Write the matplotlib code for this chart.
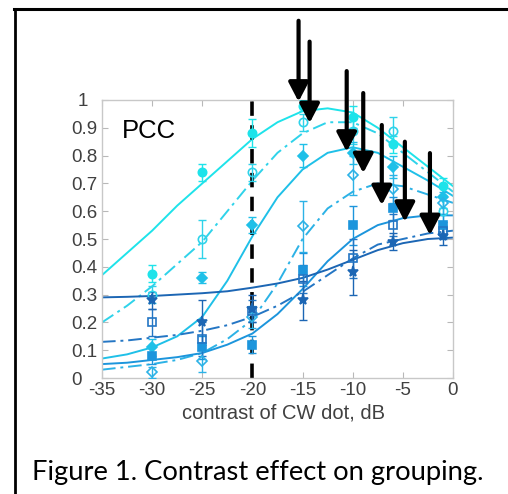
import matplotlib
matplotlib.use("Agg")
import matplotlib.pyplot as plt
from matplotlib.lines import Line2D
from matplotlib.transforms import ScaledTranslation

# ---------------- data ----------------
x_data = [-30, -25, -20, -15, -10, -6, -1]

s1_y = [0.375, 0.74, 0.88, 0.98, 0.94, 0.84, 0.69]
s2_y = [0.30, 0.50, 0.74, 0.92, 0.89, 0.89, 0.60]
s3_y = [0.11, 0.36, 0.55, 0.80, 0.81, 0.76, 0.65]
s4_y = [0.02, 0.06, 0.22, 0.545, 0.73, 0.68, 0.63]
s5_y = [0.08, 0.11, 0.12, 0.39, 0.55, 0.61, 0.55]
s6_y = [0.20, 0.14, 0.24, 0.355, 0.43, 0.55, 0.53]
s7_y = [0.28, 0.20, 0.25, 0.28, 0.38, 0.49, 0.51]

s1_err = [0.03, 0.03, 0.05, 0.02, 0.04, 0.03, 0.03]
s2_err = [0.03, 0.07, 0.03, 0.03, 0.05, 0.05, 0.05]
s3_err = [0.03, 0.02, 0.03, 0.04, 0.04, 0.04, 0.04]
s4_err = [0.02, 0.04, 0.04, 0.09, 0.07, 0.05, 0.04]
s5_err = [0.03, 0.04, 0.03, 0.06, 0.07, 0.04, 0.04]
s6_err = [0.05, 0.06, 0.04, 0.05, 0.07, 0.04, 0.03]
s7_err = [0.03, 0.08, 0.05, 0.07, 0.08, 0.03, 0.03]

# fitted curves
fit_x = [-35, -32.5, -30, -27.5, -25, -22.5, -20, -17.5, -15, -12.5, -10, -7.5, -5, -2.5, 0]
c1 = [0.37, 0.45, 0.53, 0.62, 0.70, 0.78, 0.86, 0.92, 0.96, 0.97, 0.955, 0.90, 0.83, 0.76, 0.69]
c2 = [0.20, 0.26, 0.33, 0.41, 0.49, 0.60, 0.71, 0.81, 0.88, 0.92, 0.92, 0.88, 0.81, 0.74, 0.67]
c3 = [0.07, 0.085, 0.11, 0.15, 0.22, 0.35, 0.51, 0.65, 0.75, 0.81, 0.83, 0.81, 0.76, 0.71, 0.655]
c4 = [0.03, 0.04, 0.05, 0.065, 0.09, 0.14, 0.21, 0.34, 0.50, 0.61, 0.67, 0.70, 0.69, 0.66, 0.63]
c5 = [0.05, 0.055, 0.065, 0.075, 0.09, 0.12, 0.16, 0.23, 0.32, 0.42, 0.50, 0.55, 0.575, 0.585, 0.585]
c6 = [0.13, 0.135, 0.145, 0.155, 0.17, 0.19, 0.22, 0.26, 0.31, 0.37, 0.43, 0.48, 0.50, 0.52, 0.53]
c7 = [0.29, 0.292, 0.295, 0.30, 0.305, 0.312, 0.325, 0.34, 0.36, 0.39, 0.425, 0.46, 0.485, 0.50, 0.505]

# black arrows (x, top, tip) in data units
arrow_x = [-15.4, -14.3, -10.6, -8.95, -7.1, -4.8, -2.3]
arrow_top = [1.285, 1.21, 1.104, 1.025, 0.91, 0.85, 0.809]
arrow_tip = [0.994, 0.917, 0.814, 0.737, 0.622, 0.562, 0.514]

x_ticks = [-35, -30, -25, -20, -15, -10, -5, 0]
y_ticks = [0, 0.1, 0.2, 0.3, 0.4, 0.5, 0.6, 0.7, 0.8, 0.9, 1.0]
y_tick_labels = ["0", "0.1", "0.2", "0.3", "0.4", "0.5", "0.6", "0.7", "0.8", "0.9", "1"]
vline_x = -20

# ---------------- style ----------------
series = [
    (s1_y, s1_err, c1, "#1ee3ea", "o", True, "-"),
    (s2_y, s2_err, c2, "#2fd3ea", "o", False, "-."),
    (s3_y, s3_err, c3, "#1fc0e8", "D", True, "-"),
    (s4_y, s4_err, c4, "#2cb2e6", "D", False, "-."),
    (s5_y, s5_err, c5, "#1c95dc", "s", True, "-"),
    (s6_y, s6_err, c6, "#2476c4", "s", False, "-."),
    (s7_y, s7_err, c7, "#1c66b4", "*", True, "-"),
]
dashdot = (0, (7, 2.5, 1.5, 2.5))

plt.rcParams["font.family"] = ["Liberation Sans", "DejaVu Sans"]

fig = plt.figure(figsize=(5.08, 4.94), dpi=100)
ax = fig.add_axes([102 / 508, 1 - 378 / 494, 351 / 508, 278 / 494])

for ys, es, cs, col, mk, filled, ls in series:
    ax.plot(fit_x, cs, color=col, lw=1.4,
            linestyle=(dashdot if ls == "-." else "-"), zorder=2)
    ms = 8 if mk == "*" else (5 if mk == "D" else 6)
    ax.errorbar(x_data, ys, yerr=es, fmt="none", ecolor=col, elinewidth=1.0,
                capsize=3, capthick=1.0, zorder=3)
    ax.plot(x_data, ys, linestyle="none", marker=mk, markersize=ms,
            markerfacecolor=(col if filled else "none"), markeredgecolor=col,
            markeredgewidth=1.2, zorder=4)

ax.axvline(vline_x, ymin=0, ymax=1, color="black", lw=2.6,
           linestyle=(0, (4, 2.6)), zorder=2.5)

for xa, yt, yb in zip(arrow_x, arrow_top, arrow_tip):
    ax.annotate("", xy=(xa, yb), xytext=(xa, yt),
                arrowprops=dict(arrowstyle="-|>,head_length=1.15,head_width=0.6",
                                mutation_scale=10, lw=3.0, color="black",
                                shrinkA=0, shrinkB=0),
                annotation_clip=False, zorder=6)

ax.text(-33.05, 0.863, "PCC", fontsize=18.5, color="black",
        ha="left", va="baseline")

ax.set_xlim(-35, 0)
ax.set_ylim(0, 1)
ax.set_xticks(x_ticks)
ax.set_xticklabels([str(t) for t in x_ticks])
ax.set_yticks(y_ticks)
ax.set_yticklabels(y_tick_labels)
ax.tick_params(direction="in", length=4, width=0.8, color="#b8b8b8",
               top=True, right=True, labelsize=13.5, labelcolor="#404040",
               pad=3)
for sp in ax.spines.values():
    sp.set_color("#c8c8c8")
    sp.set_linewidth(1.0)

# the "0" and "1" labels sit further left in the reference
shifts = {"0": -0.16, "1": -0.10}
for lbl in ax.get_yticklabels():
    t = lbl.get_text()
    if t in shifts:
        lbl.set_transform(lbl.get_transform() +
                          ScaledTranslation(shifts[t], 0, fig.dpi_scale_trans))

fig.text(283.5 / 508, 1 - 413 / 494, "contrast of CW dot, dB", fontsize=14.5,
         color="#404040", ha="center", va="center")

fig.text(258 / 508, 1 - 480 / 494, "Figure 1. Contrast effect on grouping.",
         fontsize=19.7, family=["Lato", "DejaVu Sans"], color="black",
         ha="center", va="baseline")

# outer frame (top and left edges visible)
fig.add_artist(Line2D([14 / 508, 1.0], [1 - 9.5 / 494] * 2,
                      transform=fig.transFigure, color="black", lw=2.2))
fig.add_artist(Line2D([14.5 / 508] * 2, [0, 1 - 9.5 / 494],
                      transform=fig.transFigure, color="black", lw=2.0))

fig.savefig("out.png", dpi=100)
